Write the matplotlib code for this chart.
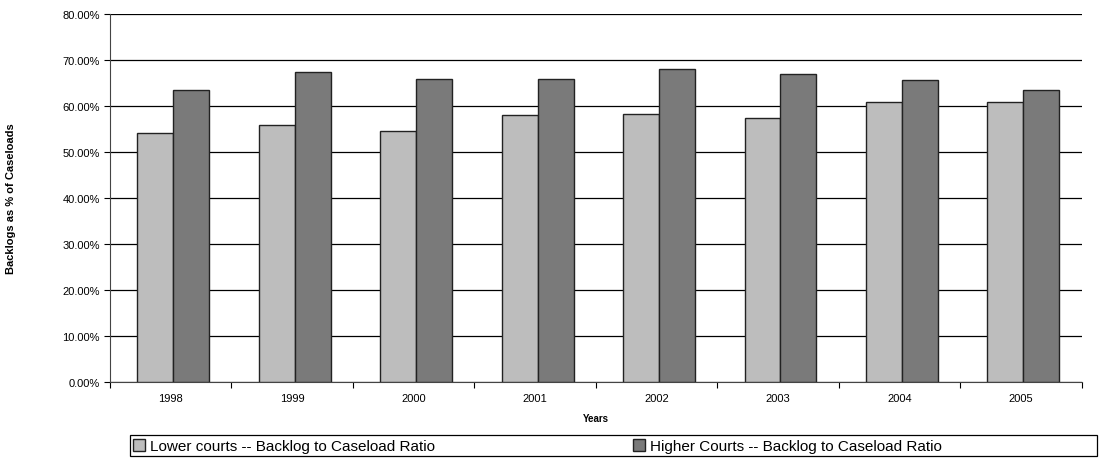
#
# Backlog to caseload ratio, lower vs higher courts, 1998-2005
# --------------------------------------------------------------------- #
import matplotlib
matplotlib.use("Agg")
import matplotlib.pyplot as plt
from matplotlib.patches import Rectangle
import numpy as np
from matplotlib.ticker import FuncFormatter
#
plt.rcParams["font.family"] = ["Liberation Sans", "DejaVu Sans"]
#
# --------------------------------------------------------------------- #
# Data
years = ["1998", "1999", "2000", "2001", "2002", "2003", "2004", "2005"]
lowerCourts = [54.1, 56.0, 54.5, 58.0, 58.3, 57.5, 61.0, 60.9]
higherCourts = [63.5, 67.4, 66.0, 65.8, 68.1, 67.0, 65.7, 63.6]
yTicks = [0, 10, 20, 30, 40, 50, 60, 70, 80]
labels = ["Lower courts -- Backlog to Caseload Ratio",
          "Higher Courts -- Backlog to Caseload Ratio"]
#
# --------------------------------------------------------------------- #
# Figure
W, H = 1106, 460
fig = plt.figure(figsize=(W / 100, H / 100), dpi=100)
ax = fig.add_axes([0.0995, 0.1674, 0.8785, 0.7996])
#
x = np.arange(len(years))
w = 0.296
b1 = ax.bar(x - w / 2 + 0.02, lowerCourts, w, color="#bdbdbd", edgecolor="#222222",
            linewidth=1.0, label=labels[0], zorder=3)
b2 = ax.bar(x + w / 2 + 0.02, higherCourts, w, color="#7a7a7a", edgecolor="#222222",
            linewidth=1.0, label=labels[1], zorder=3)
#
ax.set_xlim(-0.5, len(years) - 0.5)
ax.set_ylim(0, 80)
ax.set_yticks(yTicks)
ax.yaxis.set_major_formatter(FuncFormatter(lambda v, p: "%.2f%%" % v))
ax.set_xticks(np.arange(len(years) + 1) - 0.5, minor=False)
ax.set_xticklabels([])
ax.set_xticks(x, minor=True)
ax.set_xticklabels(years, minor=True)
ax.tick_params(axis="x", which="minor", length=0, pad=8, labelsize=8)
ax.tick_params(axis="x", which="major", length=4, direction="out")
ax.tick_params(axis="y", labelsize=8, length=4, direction="out")
#
ax.yaxis.grid(True, color="black", linewidth=0.9, zorder=0)
for s in ["top", "right"]:
    ax.spines[s].set_visible(False)
ax.spines["left"].set_color("#444444")
ax.spines["bottom"].set_color("#444444")
#
ax.set_ylabel("Backlogs as % of Caseloads", fontsize=8, fontweight="bold")
ax.yaxis.set_label_coords(-0.097, 0.5)
ax.set_xlabel("Years", fontsize=7, fontweight="bold")
ax.xaxis.set_label_coords(0.5, -0.085)
#
# Legend: one frame across the bottom, two entries placed inside it
legY = 447 / H
legKw = dict(loc="center left", fontsize=11, frameon=False, handlelength=0.8,
             handleheight=0.8, handletextpad=0.3, borderpad=0, borderaxespad=0)
fig.legend(handles=[b1], bbox_to_anchor=(133 / W, 1 - legY), **legKw)
fig.legend(handles=[b2], bbox_to_anchor=(633 / W, 1 - legY), **legKw)
fig.patches.append(Rectangle((130 / W, 1 - 457 / H), 967 / W, 21 / H,
                             transform=fig.transFigure, fill=False,
                             edgecolor="black", linewidth=0.9))
#
fig.savefig("out.png", dpi=100)
